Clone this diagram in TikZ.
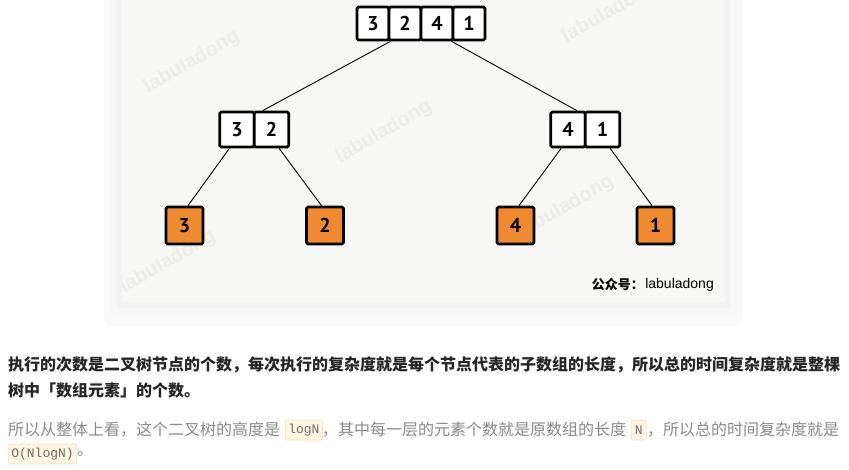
\documentclass[tikz,border=0pt]{standalone}
\usepackage{fontspec}
\setmainfont{Liberation Sans}
\setmonofont{Liberation Mono}
\newfontfamily\cjk{Noto Sans CJK SC}
\newfontfamily\numfont{PT Sans}
\definecolor{panelbg}{HTML}{F7F7F5}
\definecolor{leaforange}{HTML}{F08A30}
\definecolor{markgray}{HTML}{ECECEA}
\definecolor{bodygray}{HTML}{8A8A8A}
\definecolor{codebg}{HTML}{FFF5E1}
\definecolor{codeline}{HTML}{F2E3BF}
\definecolor{darktext}{HTML}{262626}
\tikzset{
  cell/.style={draw, line width=2.8pt, rounded corners=1.5pt, fill=white, inner sep=0pt, minimum width=32pt, minimum height=33pt, font=\numfont\bfseries\fontsize{20}{20}\selectfont},
  midcell/.style={cell, minimum width=34.5pt, minimum height=35pt},
  leaf/.style={cell, fill=leaforange, minimum width=37pt, minimum height=37pt},
  branch/.style={line width=0.9pt},
  watermark/.style={text=markgray, font=\bfseries\fontsize{20}{20}\selectfont, rotate=30},
  boldline/.style={anchor=west, inner sep=0pt, text=darktext, font=\cjk\bfseries\fontsize{16}{16}\selectfont},
  plainline/.style={anchor=west, inner sep=0pt, text=bodygray, font=\cjk\fontsize{16}{16}\selectfont},
  codebox/.style={anchor=west, fill=codebg, draw=codeline, line width=0.6pt, rounded corners=2pt, inner xsep=3pt, inner ysep=0pt, minimum height=20pt, text=bodygray!80!black, font=\ttfamily\fontsize{13}{13}\selectfont},
}
\begin{document}
\begin{tikzpicture}[x=1pt, y=-1pt]
\useasboundingbox (0,0) rectangle (849,469);
% panel with shadow
\fill[black!2, rounded corners=8pt] (104,-10) rectangle (743,326);
\fill[black!3, rounded corners=6pt] (111,-10) rectangle (736,316);
\fill[black!5, rounded corners=4pt] (117,-10) rectangle (730,308);
\fill[panelbg] (122,-10) rectangle (725,302);
\begin{scope}
\clip (122,0) rectangle (725,302);
\node[watermark] (wm1) at (192,62) {labuladong};
\node[watermark] (wm2) at (384,132) {labuladong};
\node[watermark] (wm3) at (566,207) {labuladong};
\node[watermark] (wm4) at (168,262) {labuladong};
\node[watermark] (wm5) at (610,12) {labuladong};
\end{scope}
% Level.0
\node[cell] (t1) at (373,23.5) {3};
\node[cell] (t2) at (405,23.5) {2};
\node[cell] (t3) at (437,23.5) {4};
\node[cell] (t4) at (469,23.5) {1};
% Level.1
\node[midcell] (l1) at (237,129.5) {3};
\node[midcell] (l2) at (271.5,129.5) {2};
\node[midcell] (r1) at (568,129.5) {4};
\node[midcell] (r2) at (602.5,129.5) {1};
% Level.2
\node[leaf] (a) at (184.5,225.5) {3};
\node[leaf] (b) at (325,225.5) {2};
\node[leaf] (c) at (515.5,225.5) {4};
\node[leaf] (d) at (655.5,225.5) {1};
\draw[branch] (t1.south east) -- (l2.115);
\draw[branch] (t4.south west) -- (r1.65);
\draw[branch] (l1.248) -- (a.80);
\draw[branch] (l2.292) -- (b.100);
\draw[branch] (r1.250) -- (c.80);
\draw[branch] (r2.292) -- (d.100);
\node[anchor=east, inner sep=0pt, font=\fontsize{14}{14}\selectfont] (sig) at (714,285) {labuladong};
\node[anchor=east, inner sep=1pt, font=\cjk\bfseries\fontsize{13}{13}\selectfont] (gzh) at (sig.west) {公众号：};
% text below
\node[boldline] (b1) at (8,365) {执行的次数是二叉树节点的个数，每次执行的复杂度就是每个节点代表的子数组的长度，所以总的时间复杂度就是整棵};
\node[boldline] (b2) at (8,390) {树中「数组元素」的个数。};
\node[plainline] (p1) at (8,430) {所以从整体上看，这个二叉树的高度是};
\node[codebox] (c1) at (285,430) {logN};
\node[plainline] (p2) at (322,430) {，其中每一层的元素个数就是原数组的长度};
\node[codebox, inner xsep=3.6pt] (c2) at (631,430) {N};
\node[plainline] (p3) at (647,430) {，所以总的时间复杂度就是};
\node[codebox] (c3) at (8,454) {O(NlogN)};
\node[plainline] (p4) at (c3.east) {。};
\end{tikzpicture}
\end{document}
